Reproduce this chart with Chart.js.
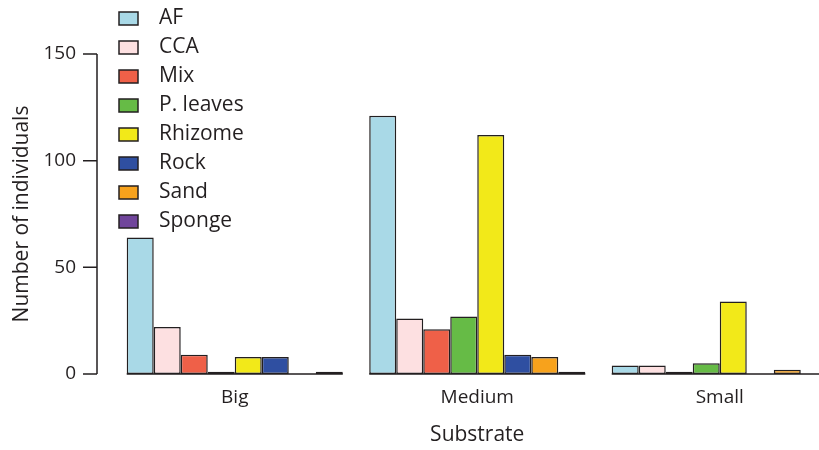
<!DOCTYPE html>
<html>
<head>
<meta charset="utf-8">
<script src="https://cdn.jsdelivr.net/npm/chart.js@4.4.1/dist/chart.umd.min.js"></script>
<style>
  html, body { margin: 0; padding: 0; overflow: hidden; background: #fff; }
  #wrap { width: 870px; height: 450px; }
</style>
</head>
<body>
<div id="wrap"><canvas id="substrateChart"></canvas></div>
<script>
const substrates = ["Big", "Medium", "Small"];
const sourceNames = ["AF", "CCA", "Mix", "P. leaves", "Rhizome", "Rock", "Sand", "Sponge"];
const sourceColors = ["#a9d9e7", "#fde0e1", "#ef6048", "#66bb46", "#f2e919", "#2f4fa1", "#f7a21c", "#70459b"];

// counts per source, in substrate order (Big, Medium, Small)
const afCounts = [64, 121, 4];
const ccaCounts = [22, 26, 4];
const mixCounts = [9, 21, 1];
const leavesCounts = [1, 27, 5];
const rhizomeCounts = [8, 112, 34];
const rockCounts = [8, 9, 0];
const sandCounts = [0, 8, 2];
const spongeCounts = [1, 1, 0];

const yTicks = [0, 50, 100, 150];

const ink = "#231f20";
const allCounts = [afCounts, ccaCounts, mixCounts, leavesCounts, rhizomeCounts, rockCounts, sandCounts, spongeCounts];

Chart.defaults.font.family = "'Open Sans', sans-serif";
Chart.defaults.color = ink;

// R-style y axis: line + ticks drawn a little left of the plot
const yAxisLine = {
  id: "yAxisLine",
  afterDraw(chart) {
    const ys = chart.scales.y;
    const ctx = chart.ctx;
    const x0 = chart.chartArea.left - 16.5;
    ctx.save();
    ctx.strokeStyle = ink;
    ctx.lineWidth = 1.5;
    ctx.beginPath();
    ctx.moveTo(x0, ys.getPixelForValue(yTicks[0]));
    ctx.lineTo(x0, ys.getPixelForValue(yTicks[yTicks.length - 1]));
    yTicks.forEach(v => {
      const py = ys.getPixelForValue(v);
      ctx.moveTo(x0 - 14, py);
      ctx.lineTo(x0, py);
    });
    ctx.stroke();
    ctx.restore();
  }
};

// baseline under each group of bars
const groupBaseline = {
  id: "groupBaseline",
  beforeDatasetsDraw(chart) {
    const first = chart.getDatasetMeta(0).data;
    const last = chart.getDatasetMeta(chart.data.datasets.length - 1).data;
    const y0 = chart.scales.y.getPixelForValue(0);
    const ctx = chart.ctx;
    ctx.save();
    ctx.strokeStyle = ink;
    ctx.lineWidth = 1.5;
    ctx.beginPath();
    first.forEach((bar, i) => {
      ctx.moveTo(bar.x - bar.width / 2, y0);
      ctx.lineTo(last[i].x + last[i].width / 2, y0);
    });
    ctx.stroke();
    ctx.restore();
  }
};

// move the legend up into the top-left corner
const legendCorner = {
  id: "legendCorner",
  afterLayout(chart) {
    const lg = chart.legend;
    if (!lg) return;
    const dx = 111 - lg.left;
    const dy = 0 - lg.top;
    lg.left += dx; lg.right += dx;
    lg.top += dy; lg.bottom += dy;
  }
};

const datasets = sourceNames.map((name, i) => ({
  label: name,
  data: allCounts[i],
  backgroundColor: sourceColors[i],
  borderColor: ink,
  borderWidth: 1.5,
  borderSkipped: false,
  categoryPercentage: 0.891,
  barPercentage: 1
}));

new Chart(document.getElementById("substrateChart"), {
  type: "bar",
  data: { labels: substrates, datasets },
  options: {
    responsive: true,
    maintainAspectRatio: false,
    animation: false,
    layout: { padding: { top: 54, right: 29, left: 0, bottom: 0 } },
    plugins: {
      tooltip: { enabled: false },
      legend: {
        position: "chartArea",
        align: "start",
        labels: {
          boxWidth: 19,
          boxHeight: 13,
          padding: 8,
          font: { size: 21 },
          color: ink,
          generateLabels(chart) {
            return Chart.defaults.plugins.legend.labels.generateLabels(chart)
              .map(item => ({ ...item, text: "\u2002" + item.text }));
          }
        }
      }
    },
    scales: {
      x: {
        grid: { display: false, drawTicks: false },
        border: { display: false },
        ticks: { padding: 12, font: { size: 19 }, color: ink },
        title: { display: true, text: "Substrate", font: { size: 21 }, color: ink, padding: { top: 0, bottom: 2 } },
        afterFit(scale) { scale.height = 76; }
      },
      y: {
        min: 0,
        max: 150,
        grid: { display: false, drawTicks: false },
        border: { display: false },
        ticks: { padding: 37.5, font: { size: 19 }, color: ink },
        afterBuildTicks(scale) { scale.ticks = yTicks.map(v => ({ value: v })); },
        title: { display: true, text: "Number of individuals", font: { size: 21 }, color: ink, padding: { top: 9, bottom: 0 } },
        afterFit(scale) { scale.width = 113.5; }
      }
    }
  },
  plugins: [yAxisLine, groupBaseline, legendCorner]
});
</script>
</body>
</html>
